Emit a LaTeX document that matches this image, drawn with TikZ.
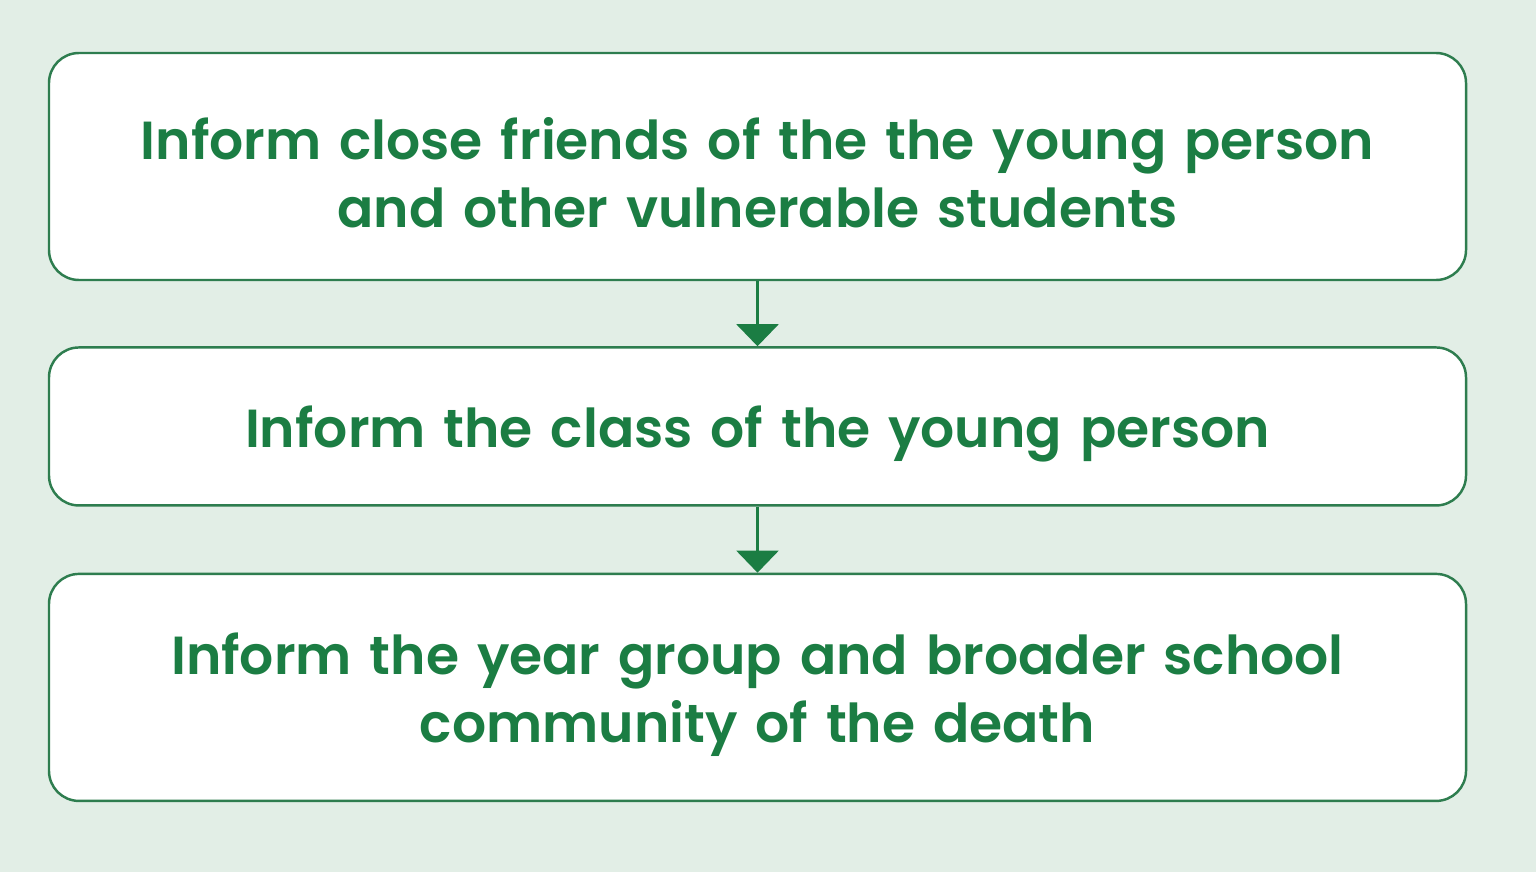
\documentclass[tikz,border=0pt]{standalone}
\usepackage{fontspec}
\setmainfont{Poppins}[BoldFont={Poppins SemiBold}]
\usetikzlibrary{positioning, arrows.meta}

\definecolor{bggreen}{HTML}{E2EEE6}
\definecolor{linegreen}{HTML}{2E7D4F}
\definecolor{textgreen}{HTML}{1B7D43}

\begin{document}
\begin{tikzpicture}[
        stepbox/.style={rectangle, rounded corners=0.6cm, draw=linegreen, line width=1.4pt, fill=white,
            minimum width=28.34cm, text width=27cm, align=center, inner sep=0pt, text depth=38.6pt,
            font=\fontsize{30.5}{38.6}\selectfont\bfseries, text=textgreen},
        flow/.style={-{Triangle[width=0.84cm, length=0.44cm]}, line width=1.3pt, draw=linegreen, color=textgreen}
    ]
        \fill[bggreen] (0,0) rectangle (30.72,-17.44);
        \useasboundingbox (0,0) rectangle (30.72,-17.44);

        % Steps
        \node[stepbox, minimum height=4.54cm, text depth=32pt] (friends) at (15.15,-3.33) {Inform close friends of the the young person\\ and other vulnerable students};
        \node[stepbox, minimum height=3.16cm, text depth=0pt, below=1.3cm of friends] (class) {Inform the class of the young person};
        \node[stepbox, minimum height=4.54cm, below=1.32cm of class] (school) {Inform the year group and broader school\\ community of the death};

        \draw[flow] (friends) -- (class);
        \draw[flow] (class) -- (school);
    \end{tikzpicture}
\end{document}
